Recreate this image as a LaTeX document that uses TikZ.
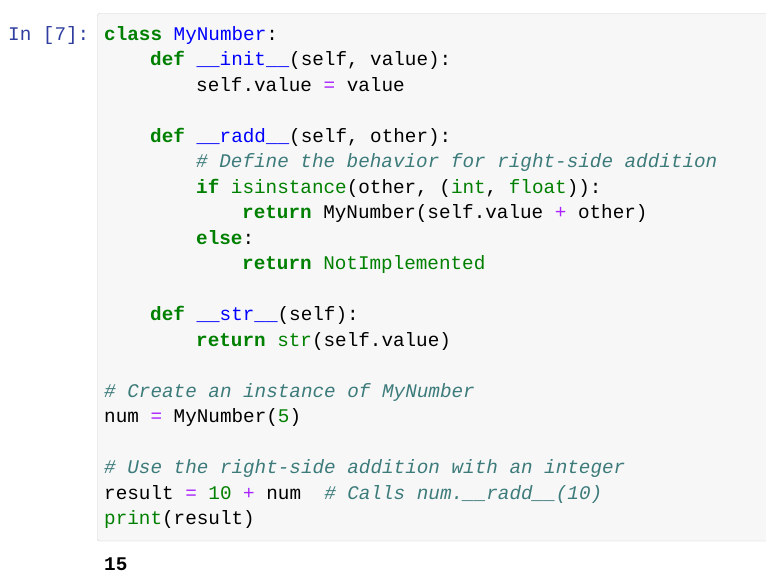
\documentclass[tikz,border=0pt]{standalone}
\usepackage{fontspec}
\setmonofont{Liberation Mono}
\definecolor{kw}{HTML}{008000}
\definecolor{nm}{HTML}{0000FF}
\definecolor{cm}{HTML}{3D7B7B}
\definecolor{op}{HTML}{AA22FF}
\definecolor{pr}{HTML}{303F9F}
\definecolor{bg}{HTML}{F7F7F7}
\definecolor{bd}{HTML}{CFCFCF}
\newcommand\K[1]{\textcolor{kw}{\bfseries #1}}
\newcommand\B[1]{\textcolor{nm}{#1}}
\newcommand\C[1]{\textcolor{cm}{\itshape #1}}
\newcommand\Op[1]{\textcolor{op}{#1}}
\newcommand\G[1]{\textcolor{kw}{#1}}
\tikzset{code/.style={anchor=west,inner sep=0pt,text height=14pt,text depth=4pt,font=\ttfamily\fontsize{19.3}{21}\selectfont}}
\begin{document}
\begin{tikzpicture}[x=1pt,y=-1pt]
\useasboundingbox (0,0) rectangle (766,582);
\fill[white] (0,0) rectangle (766,582);
\draw[bd,fill=bg,rounded corners=2pt] (97.5,13.5) rectangle (770,541);
\node[code,pr] (p) at (8,35) {In [7]:};
\node[code] (l1) at (104,35) {\K{class} \B{MyNumber}:};
\node[code] (l2) at (150,60.5) {\K{def} \B{\_\_init\_\_}(self, value):};
\node[code] (l3) at (196,86) {self.value \Op{=} value};
\node[code] (l5) at (150,137) {\K{def} \B{\_\_radd\_\_}(self, other):};
\node[code] (l6) at (196,162.5) {\C{\# Define the behavior for right-side addition}};
\node[code] (l7) at (196,188) {\K{if} \G{isinstance}(other, (\G{int}, \G{float})):};
\node[code] (l8) at (242,213.5) {\K{return} MyNumber(self.value \Op{+} other)};
\node[code] (l9) at (196,239) {\K{else}:};
\node[code] (l10) at (242,264.5) {\K{return} \G{NotImplemented}};
\node[code] (l12) at (150,315.5) {\K{def} \B{\_\_str\_\_}(self):};
\node[code] (l13) at (196,341) {\K{return} \G{str}(self.value)};
\node[code] (l15) at (104,392) {\C{\# Create an instance of MyNumber}};
\node[code] (l16) at (104,417.5) {num \Op{=} MyNumber(\G{5})};
\node[code] (l18) at (104,468.5) {\C{\# Use the right-side addition with an integer}};
\node[code] (l19) at (104,494) {result \Op{=} \G{10} \Op{+} num\ \ \C{\# Calls num.\_\_radd\_\_(10)}};
\node[code] (l20) at (104,519.5) {\G{print}(result)};
\node[code,font=\ttfamily\bfseries\fontsize{19.3}{21}\selectfont] (out) at (104,565) {15};
\end{tikzpicture}
\end{document}
